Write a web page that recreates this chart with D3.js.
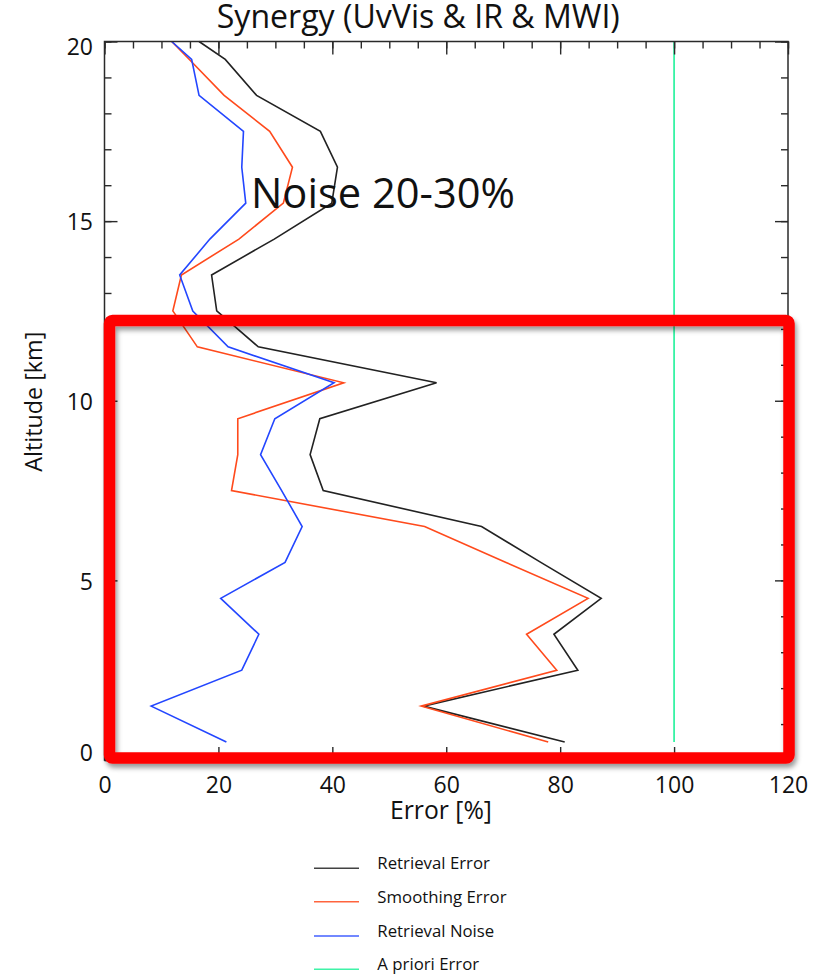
<!DOCTYPE html>
<html>
<head>
<meta charset="utf-8">
<script src="https://cdn.jsdelivr.net/npm/d3@7"></script>
<style>
  html, body { margin: 0; padding: 0; background: #fff; }
  svg { display: block; }
  text { font-family: "Open Sans", "Noto Sans", sans-serif; fill: #111; }
</style>
</head>
<body>
<svg id="chart" width="827" height="980"></svg>
<script>
// ---------------- data ----------------
const altitudes       = [0.5, 1.5, 2.5, 3.5, 4.5, 5.5, 6.5, 7.5, 8.5, 9.5, 10.5, 11.5, 12.5, 13.5, 14.5, 15.5, 16.5, 17.5, 18.5, 19.5, 20];
const retrievalError  = [80.8, 56.0, 83.1, 78.9, 87.2, 76.6, 66.2, 38.4, 36.1, 37.8, 58.3, 27.0, 19.7, 18.8, 29.8, 39.9, 40.9, 37.9, 26.7, 21.2, 16.6];
const smoothingError  = [77.9, 55.6, 79.4, 74.1, 84.9, 70.5, 56.2, 22.3, 23.4, 23.4, 42.0, 16.3, 12.0, 13.5, 23.6, 31.4, 33.0, 29.0, 21.0, 14.9, 11.8];
const retrievalNoise  = [21.4, 8.2, 24.1, 27.1, 20.4, 31.7, 34.7, 31.1, 27.4, 29.9, 40.3, 21.7, 15.5, 13.2, 18.5, 24.8, 24.1, 24.4, 16.6, 15.3, 11.8];
const aprioriError    = [100, 100, 100, 100, 100, 100, 100, 100, 100, 100, 100, 100, 100, 100, 100, 100, 100, 100, 100, 100, 100];
const seriesNames     = ["Retrieval Error", "Smoothing Error", "Retrieval Noise", "A priori Error"];
const seriesColors    = ["#222222", "#ff4a1c", "#2346ff", "#1ef29a"];
const xTicks          = [0, 20, 40, 60, 80, 100, 120];
const yTicks          = [0, 5, 10, 15, 20];
const titleText       = "Synergy (UvVis & IR & MWI)";
const xLabel          = "Error [%]";
const yLabel          = "Altitude [km]";
const noteText        = "Noise 20-30%";

const seriesValues = [retrievalError, smoothingError, retrievalNoise, aprioriError];

// ---------------- layout ----------------
const svg = d3.select("#chart");
const L = 104.5, R = 788, T = 41.5, B = 760;
const x = d3.scaleLinear().domain([0, 120]).range([L, R]);
const y = d3.scaleLinear().domain([0, 20]).range([B, T]);
const axisColor = "#2a2a2a";

function fitText(sel, target) {
  const node = sel.node();
  const fs = parseFloat(sel.attr("font-size"));
  const w = node.getComputedTextLength();
  if (w > 0) sel.attr("font-size", (fs * target / w).toFixed(2));
}

// defs: shadow
const defs = svg.append("defs");
const f = defs.append("filter").attr("id", "shadow").attr("x", "-5%").attr("y", "-5%").attr("width", "112%").attr("height", "112%");
f.append("feDropShadow").attr("dx", 2).attr("dy", 4).attr("stdDeviation", 2.5)
  .attr("flood-color", "#000").attr("flood-opacity", 0.4);

// series lines
const line = d3.line().x(d => x(d[0])).y(d => y(d[1]));
const gLines = svg.append("g");
seriesValues.forEach((vals, i) => {
  const pts = altitudes.map((a, k) => [vals[k], a]);
  gLines.append("path").datum(pts)
    .attr("d", line)
    .attr("fill", "none")
    .attr("stroke", seriesColors[i])
    .attr("stroke-width", 1.6)
    .attr("stroke-linejoin", "miter");
});

// axes (inward ticks)
function styleAxis(g) {
  g.select(".domain").remove();
  g.selectAll(".tick line").attr("stroke", axisColor).attr("stroke-width", 1.4);
}
const minorX = d3.range(0, 121, 5);
const minorY = d3.range(0, 21, 1);

// bottom
svg.append("g").attr("transform", `translate(0,${B})`)
  .call(d3.axisBottom(x).tickValues(minorX).tickSize(-7).tickFormat(""))
  .call(styleAxis);
const gxB = svg.append("g").attr("transform", `translate(0,${B})`)
  .call(d3.axisBottom(x).tickValues(xTicks).tickSize(-13).tickFormat(d3.format("d")))
  .call(styleAxis);
gxB.selectAll(".tick text")
  .attr("y", 25).attr("dy", "0.36em")
  .attr("font-size", 23).attr("fill", "#111")
  .style("font-family", '"Open Sans", sans-serif');

// top
svg.append("g").attr("transform", `translate(0,${T})`)
  .call(d3.axisTop(x).tickValues(minorX).tickSize(-7).tickFormat(""))
  .call(styleAxis);
svg.append("g").attr("transform", `translate(0,${T})`)
  .call(d3.axisTop(x).tickValues(xTicks).tickSize(-13).tickFormat(""))
  .call(styleAxis);

// left
svg.append("g").attr("transform", `translate(${L},0)`)
  .call(d3.axisLeft(y).tickValues(minorY).tickSize(-7).tickFormat(""))
  .call(styleAxis);
const gyL = svg.append("g").attr("transform", `translate(${L},0)`)
  .call(d3.axisLeft(y).tickValues(yTicks).tickSize(-13).tickFormat(d3.format("d")))
  .call(styleAxis);
gyL.selectAll(".tick text")
  .attr("x", -11.5)
  .attr("dy", d => d === 20 ? "0.58em" : (d === 0 ? "0.02em" : "0.38em"))
  .attr("font-size", 23).attr("fill", "#111")
  .style("font-family", '"Open Sans", sans-serif');

// right
svg.append("g").attr("transform", `translate(${R},0)`)
  .call(d3.axisRight(y).tickValues(minorY).tickSize(-7).tickFormat(""))
  .call(styleAxis);
svg.append("g").attr("transform", `translate(${R},0)`)
  .call(d3.axisRight(y).tickValues(yTicks).tickSize(-13).tickFormat(""))
  .call(styleAxis);

// frame
svg.append("rect").attr("x", L).attr("y", T).attr("width", R - L).attr("height", B - T)
  .attr("fill", "none").attr("stroke", axisColor).attr("stroke-width", 1.5);

// title
const title = svg.append("text").text(titleText)
  .attr("x", 418.3).attr("y", 27.7).attr("text-anchor", "middle")
  .attr("font-size", 26);
fitText(title, 403);

// axis labels
const xl = svg.append("text").text(xLabel)
  .attr("x", 441).attr("y", 819).attr("text-anchor", "middle").attr("font-size", 22);
fitText(xl, 102);
const yl = svg.append("text").text(yLabel)
  .attr("transform", "translate(41.5,401.7) rotate(-90)")
  .attr("text-anchor", "middle").attr("font-size", 22);
fitText(yl, 140);

// annotation
const note = svg.append("text").text(noteText)
  .attr("x", 251).attr("y", 208.3).attr("font-size", 42).attr("fill", "#000");
fitText(note, 264);

// highlight box
svg.append("rect")
  .attr("x", 109.5).attr("y", 320.5).attr("width", 679.5).attr("height", 437.5)
  .attr("rx", 3).attr("ry", 3)
  .attr("fill", "none").attr("stroke", "#ff0000").attr("stroke-width", 11.5)
  .attr("filter", "url(#shadow)");

// legend
const legY = [868.3, 901.7, 936, 969.3];
const gLeg = svg.append("g");
let legFont = null;
seriesNames.forEach((name, i) => {
  gLeg.append("line")
    .attr("x1", 314).attr("x2", 359).attr("y1", legY[i]).attr("y2", legY[i])
    .attr("stroke", seriesColors[i]).attr("stroke-width", 1.5).attr("opacity", 0.85);
  const t = gLeg.append("text").text(name)
    .attr("x", 377.3).attr("y", legY[i] + 1).attr("font-size", 15).attr("fill", "#222");
  if (i === 0) { fitText(t, 112.7); legFont = t.attr("font-size"); }
  else t.attr("font-size", legFont);
});
</script>
</body>
</html>
